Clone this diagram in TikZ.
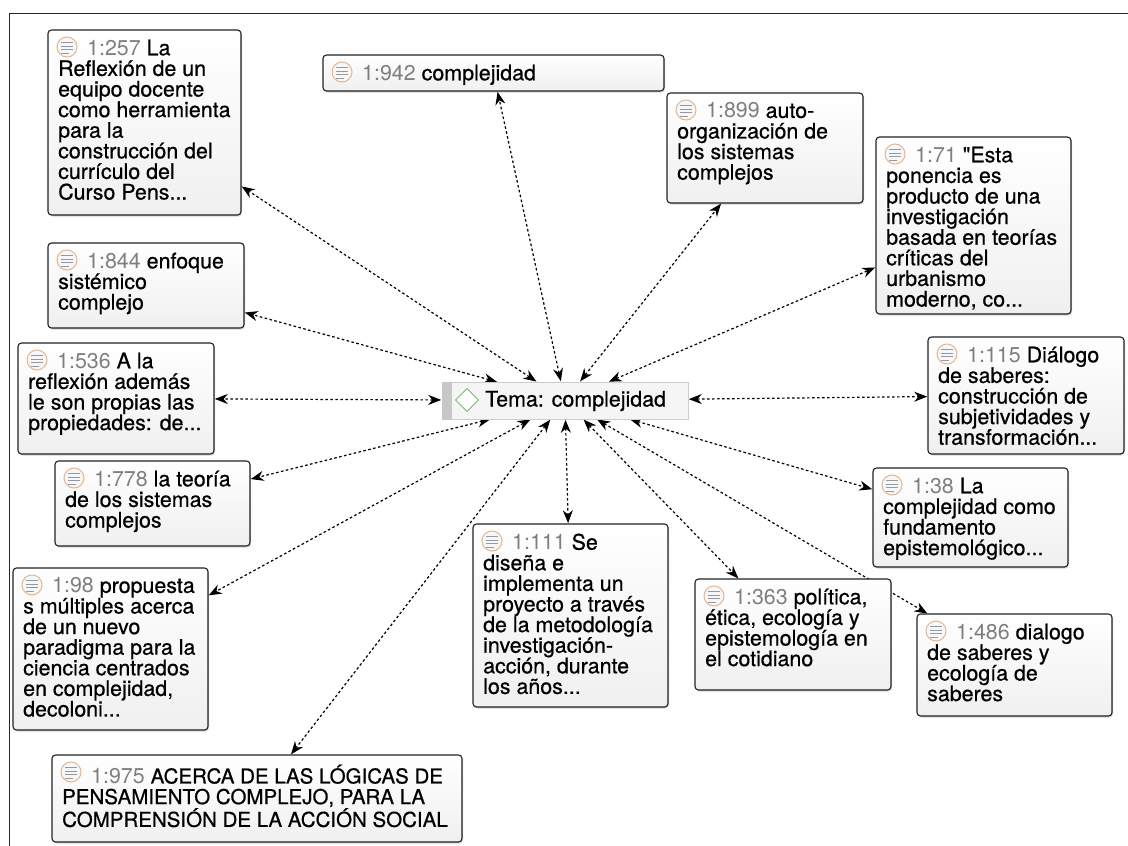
\documentclass[tikz,border=0pt]{standalone}
\usepackage{fontspec}
\setmainfont{TeX Gyre Heros}
\newfontfamily\txb[FakeBold=0.6]{TeX Gyre Heros}
\usetikzlibrary{arrows.meta,shadows,backgrounds}
\definecolor{idgray}{HTML}{7F7F7F}
\definecolor{iconring}{HTML}{E8B48C}
\definecolor{iconline}{HTML}{8F9AA8}
\definecolor{boxedge}{HTML}{222222}
\tikzset{
  x=1pt,y=-1pt,
  notebox/.style={draw=boxedge,line width=1.1pt,rounded corners=3.5pt,top color=white,bottom color=black!6,
    drop shadow={shadow xshift=1pt,shadow yshift=-1.5pt,opacity=.16,fill=black},inner sep=0pt,outer sep=0pt,anchor=north west},
  notetext/.style={anchor=north west,inner sep=0pt,align=left,font=\fontsize{21.4}{20.6}\selectfont\txb,text=black},
  noteicon/.style={circle,draw=iconring,line width=1pt,fill=black!3,minimum size=20pt,inner sep=0pt},
  iconbar/.style={draw=iconline,line width=0.9pt},
  themebox/.style={draw=black!20,line width=1pt,fill=black!4,inner sep=0pt,outer sep=0pt,anchor=north west,
    drop shadow={shadow xshift=0.8pt,shadow yshift=-1pt,opacity=.15,fill=black}},
  link/.style={dash pattern=on 2.6pt off 2.4pt,line width=1.2pt,black,
    {Stealth[length=13pt,width=10pt]}-{Stealth[length=13pt,width=10pt]},shorten >=0.8pt,shorten <=0.8pt},
}
\newcommand\notebox[7]{%
  \pgfmathsetmacro\nbw{#4-#2}\pgfmathsetmacro\nbh{#5-#3}%
  \node[notebox,minimum width=\nbw pt,minimum height=\nbh pt] (#1) at (#2,#3) {};
  \node[noteicon] (#1i) at (#2+19,#3+17) {};
  \draw[iconbar] (#2+13,#3+12.5) -- (#2+25,#3+12.5);
  \draw[iconbar] (#2+13,#3+16) -- (#2+25,#3+16);
  \draw[iconbar] (#2+13,#3+19.5) -- (#2+25,#3+19.5);
  \draw[iconbar] (#2+13,#3+23) -- (#2+21,#3+23);
  \node[notetext] (#1t) at (#2+10,#3+9.5) {\rule{0pt}{15pt}\hspace{29pt}{\fontsize{21.4}{20.6}\selectfont\rmfamily\color{idgray}#6} #7};
}
\newcommand\capsize{\fontsize{20.5}{20.6}\selectfont}
\begin{document}
\begin{tikzpicture}
\useasboundingbox (0,0) rectangle (1128,846);

\notebox{a}{48}{30}{241}{215}{1:257}{La\\Reflexión de un\\equipo docente\\como herramienta\\para la\\construcción del\\currículo del\\Curso Pens...}
\notebox{b}{323}{55}{664}{91}{1:942}{complejidad}
\notebox{c}{667}{93}{863}{203}{1:899}{auto-\\organización de\\los sistemas\\complejos}
\notebox{d}{876}{137}{1071}{314}{1:71}{"Esta\\ponencia es\\producto de una\\investigación\\basada en teorías\\críticas del\\urbanismo\\moderno, co...}
\notebox{e}{48}{243}{244}{328}{1:844}{enfoque\\sistémico\\complejo}
\notebox{f}{18}{343}{214}{454}{1:536}{A la\\reflexión además\\le son propias las\\propiedades: de...}
\notebox{g}{928}{337}{1124}{454}{1:115}{Diálogo\\de saberes:\\construcción de\\subjetividades y\\transformación...}
\notebox{h}{55}{461}{250}{546}{1:778}{la teoría\\de los sistemas\\complejos}
\notebox{i}{873}{468}{1068}{567}{1:38}{La\\complejidad como\\fundamento\\epistemológico...}
\notebox{j}{13}{568}{208}{730}{1:98}{propuesta\\s múltiples acerca\\de un nuevo\\paradigma para la\\ciencia centrados\\en complejidad,\\decoloni...}
\notebox{k}{473}{524}{668}{707}{1:111}{Se\\diseña e\\implementa un\\proyecto a través\\de la metodología\\investigación-\\acción, durante\\los años...}
\notebox{l}{695}{579}{891}{690}{1:363}{política,\\ética, ecología y\\epistemología en\\el cotidiano}
\notebox{m}{917}{614}{1112}{716}{1:486}{dialogo\\de saberes y\\ecología de\\saberes}
\notebox{n}{52}{755}{462}{842}{1:975}{\capsize ACERCA DE LAS LÓGICAS DE\\\capsize PENSAMIENTO COMPLEJO, PARA LA\\\capsize COMPRENSIÓN DE LA ACCIÓN SOCIAL}

\node[themebox,minimum width=246pt,minimum height=37pt] (tema) at (442,382) {};
\fill[black!22] (tema.north west) rectangle (452,419);
\node[draw=green!45!black!45,line width=1pt,fill=white,minimum size=16pt,inner sep=0pt,rotate=45] (temaicon) at (467,400) {};
\node[anchor=base west,inner sep=0pt,font=\fontsize{21.4}{22}\selectfont\txb] (tematext) at (485,406.5) {Tema: complejidad};

\begin{scope}[on background layer]
\fill[white] (0,0) rectangle (1128,846);
\draw[line width=1.6pt,black!85] (9.5,846) -- (9.5,13.5) -- (1128,13.5);
\foreach \t in {a,b,c,d,e,f,g,h,i,j,k,l,m,n}{\draw[link] (tema) -- (\t);}
\end{scope}
\end{tikzpicture}
\end{document}
